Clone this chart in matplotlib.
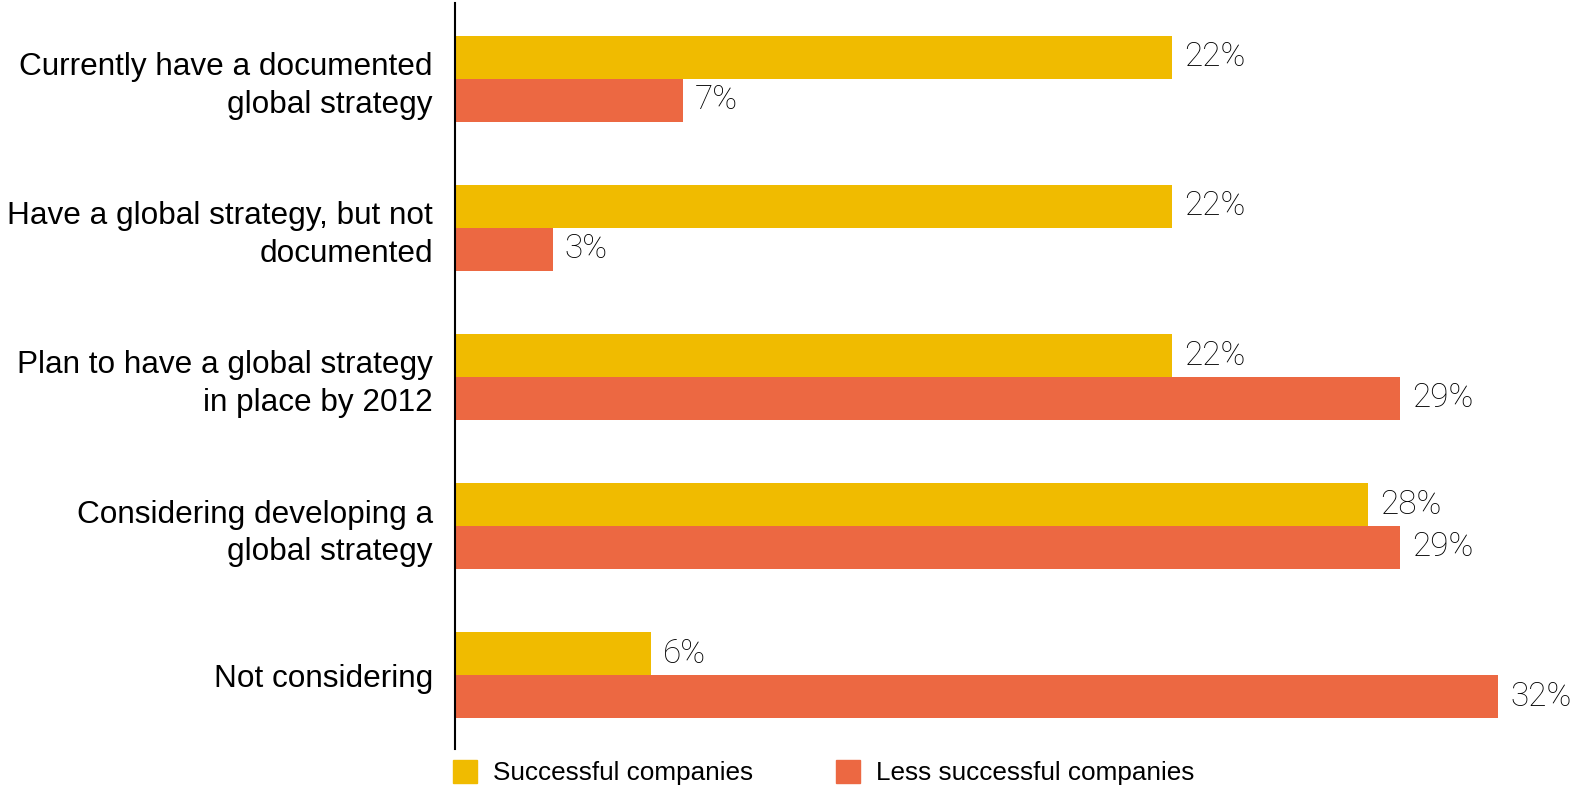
import matplotlib.pyplot as plt
import numpy as np
from matplotlib.patches import Patch

categories = [
    "Currently have a documented\nglobal strategy",
    "Have a global strategy, but not\ndocumented",
    "Plan to have a global strategy\nin place by 2012",
    "Considering developing a\nglobal strategy",
    "Not considering",
]
successful = [22, 22, 22, 28, 6]
less_successful = [7, 3, 29, 29, 32]
series_names = ["Successful companies", "Less successful companies"]

yellow = "#F0BB00"
orange = "#EC6842"

fig = plt.figure(figsize=(15.70, 7.89), dpi=100)
ax = fig.add_axes([455 / 1570, 1 - 749 / 789, 1 - 455 / 1570, (749 - 3) / 789])

y = np.arange(len(categories))
h = 0.288
ax.barh(y - h / 2, successful, height=h, color=yellow)
ax.barh(y + h / 2, less_successful, height=h, color=orange)

label_style = dict(va="center", ha="left", fontsize=24, family="Roboto",
                   fontweight="light", color="black")
for yi, v in zip(y - h / 2, successful):
    ax.text(v + 0.37, yi, f"{v}%", **label_style)
for yi, v in zip(y + h / 2, less_successful):
    ax.text(v + 0.37, yi, f"{v}%", **label_style)

ax.set_xlim(0, 34.2)
ax.set_ylim(4.496, -0.509)
ax.set_xticks([])
ax.set_yticks(y)
ax.set_yticklabels(categories, fontsize=22.7, family="Liberation Sans",
                   linespacing=1.32)
ax.tick_params(axis="y", length=0, pad=16)
for s in ["top", "right", "bottom"]:
    ax.spines[s].set_visible(False)
ax.spines["left"].set_linewidth(1.5)
ax.spines["left"].set_zorder(5)

handles = [Patch(color=yellow), Patch(color=orange)]
fig.legend(handles, series_names, loc="center left",
           bbox_to_anchor=(453 / 1570, 1 - 772.5 / 789), ncol=2,
           frameon=False, borderpad=0, borderaxespad=0,
           handlelength=0.92, handleheight=0.96, handletextpad=0.61,
           columnspacing=3.18,
           prop={"family": "Liberation Sans", "size": 18.8})

fig.savefig("out.png", dpi=100)
